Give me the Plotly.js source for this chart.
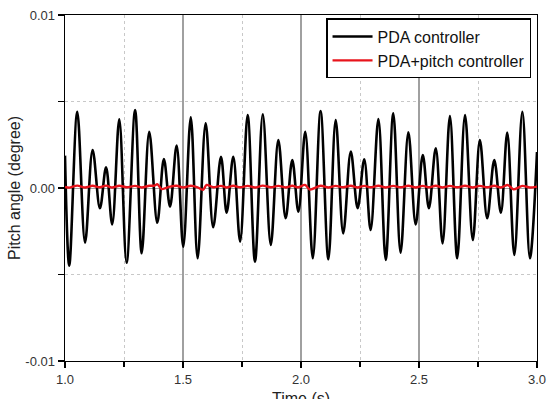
<!DOCTYPE html>
<html>
<head>
<meta charset="utf-8">
<script src="https://cdn.plot.ly/plotly-3.0.1.min.js"></script>
<style>html,body{margin:0;padding:0;background:#fff;}#chart{width:551px;height:399px;}</style>
</head>
<body>
<div id="chart"></div>
<script>
// Black trace: extrema (time s, pitch angle degree)
const pdaTime = [1.000,1.018,1.052,1.085,1.117,1.148,1.174,1.200,1.230,1.261,1.297,1.325,1.357,1.391,1.419,1.445,1.473,1.501,1.533,1.562,1.596,1.628,1.661,1.685,1.713,1.742,1.774,1.805,1.838,1.872,1.904,1.935,1.963,1.989,2.018,2.050,2.083,2.116,2.147,2.179,2.211,2.240,2.268,2.295,2.328,2.359,2.391,2.422,2.455,2.486,2.516,2.542,2.571,2.600,2.631,2.662,2.695,2.728,2.758,2.789,2.819,2.847,2.874,2.904,2.938,2.970,3.000];
const pdaAngle = [0.00187,-0.00449,0.00441,-0.00316,0.00220,-0.00117,0.00120,-0.00210,0.00397,-0.00432,0.00451,-0.00377,0.00325,-0.00201,0.00168,-0.00108,0.00245,-0.00339,0.00409,-0.00406,0.00374,-0.00227,0.00181,-0.00143,0.00181,-0.00310,0.00422,-0.00426,0.00426,-0.00329,0.00277,-0.00175,0.00162,-0.00137,0.00325,-0.00406,0.00445,-0.00412,0.00393,-0.00262,0.00210,-0.00117,0.00166,-0.00243,0.00399,-0.00416,0.00432,-0.00374,0.00322,-0.00210,0.00191,-0.00117,0.00229,-0.00320,0.00416,-0.00406,0.00422,-0.00301,0.00277,-0.00175,0.00162,-0.00143,0.00320,-0.00387,0.00441,-0.00406,0.00208];

// Red trace: small residual wiggle
const pitchTime = [1.000,1.018,1.052,1.085,1.117,1.148,1.174,1.200,1.230,1.261,1.297,1.325,1.357,1.380,1.391,1.410,1.445,1.473,1.501,1.533,1.562,1.585,1.600,1.628,1.661,1.685,1.713,1.742,1.774,1.805,1.838,1.872,1.904,1.935,1.963,1.989,2.017,2.038,2.083,2.116,2.147,2.179,2.211,2.240,2.268,2.295,2.328,2.359,2.391,2.422,2.455,2.486,2.516,2.542,2.571,2.600,2.631,2.662,2.695,2.728,2.758,2.789,2.819,2.847,2.877,2.900,2.938,2.970,3.000];
const pitchAngle = [0.00006,0.00002,0.00014,0.00003,0.00013,0.00004,0.00014,0.00003,0.00013,0.00004,0.00012,0.00003,0.00013,0.00014,0.00022,-0.00006,0.00008,0.00013,0.00003,0.00013,0.00004,-0.00010,0.00018,0.00004,0.00012,0.00003,0.00013,0.00004,0.00012,0.00003,0.00014,0.00004,0.00012,0.00003,0.00013,0.00004,0.00018,-0.00009,0.00013,0.00003,0.00012,0.00004,0.00013,0.00003,0.00012,0.00004,0.00013,0.00003,0.00012,0.00004,0.00013,0.00003,0.00012,0.00004,0.00013,0.00003,0.00012,0.00004,0.00013,0.00003,0.00012,0.00004,0.00013,0.00003,0.00017,-0.00008,0.00012,0.00003,0.00008];

const xTickVals = [1.0,1.5,2.0,2.5,3.0];
const xTickText = ['1.0','1.5','2.0','2.5','3.0'];
const yTickVals = [-0.01,0,0.01];
const yTickText = ['-0.01','0.00','0.01'];
const seriesNames = ['PDA controller','PDA+pitch controller'];
const xTitle = 'Time (s)';
const yTitle = 'Pitch angle (degree)';

const FONT = 'Liberation Sans, Arial, Helvetica, sans-serif';

const traces = [
  {x: pdaTime, y: pdaAngle, name: seriesNames[0], type: 'scatter', mode: 'lines',
   line: {color: '#000000', width: 2.6, shape: 'spline', smoothing: 1}},
  {x: pitchTime, y: pitchAngle, name: seriesNames[1], type: 'scatter', mode: 'lines',
   line: {color: '#e8141c', width: 2.4, shape: 'spline', smoothing: 0.8}}
];

const layout = {
  width: 551, height: 399,
  margin: {l: 65, r: 14, t: 15, b: 38},
  paper_bgcolor: '#ffffff', plot_bgcolor: '#ffffff',
  font: {family: FONT, color: '#222', size: 13},
  showlegend: true,
  legend: {x: 0.988, y: 0.99, xanchor: 'right', yanchor: 'top',
    bgcolor: '#ffffff', bordercolor: '#000000', borderwidth: 1.2,
    itemwidth: 40, tracegroupgap: 0,
    font: {family: FONT, size: 16, color: '#111'}},
  annotations: [
    {text: xTitle, xref: 'paper', yref: 'paper', x: 0.5, y: -0.078, xanchor: 'center', yanchor: 'top',
     showarrow: false, font: {family: FONT, size: 16, color: '#222'}}
  ],
  xaxis: {
    range: [1, 3], tickmode: 'array', tickvals: xTickVals, ticktext: xTickText,
    ticks: 'outside', ticklen: 6, tickwidth: 1.2, tickcolor: '#000',
    showline: true, linecolor: '#000', linewidth: 1.4, mirror: true,
    showgrid: true, gridcolor: '#a0a0a0', gridwidth: 1.4, zeroline: false,
    tickfont: {family: FONT, size: 13, color: '#333'},
    minor: {tickmode: 'linear', tick0: 1, dtick: 0.25, ticks: 'outside', ticklen: 5, tickwidth: 1.2, tickcolor: '#000',
      showgrid: true, gridcolor: '#c8c8c8', gridwidth: 1, griddash: '3px,3px'},
    automargin: false
  },
  yaxis: {
    range: [-0.01, 0.01], tickmode: 'array', tickvals: yTickVals, ticktext: yTickText,
    ticks: 'outside', ticklen: 6, tickwidth: 1.2, tickcolor: '#000',
    showline: true, linecolor: '#000', linewidth: 1.4, mirror: true,
    showgrid: true, gridcolor: '#a0a0a0', gridwidth: 1, zeroline: false,
    tickfont: {family: FONT, size: 13, color: '#333'},
    minor: {tickmode: 'linear', tick0: 0, dtick: 0.005, ticks: 'outside', ticklen: 6, tickwidth: 1.2, tickcolor: '#000',
      showgrid: true, gridcolor: '#c8c8c8', gridwidth: 1, griddash: '3px,3px'},
    title: {text: yTitle, font: {family: FONT, size: 16, color: '#222'}, standoff: 0},
    automargin: false
  }
};

Plotly.newPlot('chart', traces, layout, {displayModeBar: false, staticPlot: true});
</script>
</body>
</html>
